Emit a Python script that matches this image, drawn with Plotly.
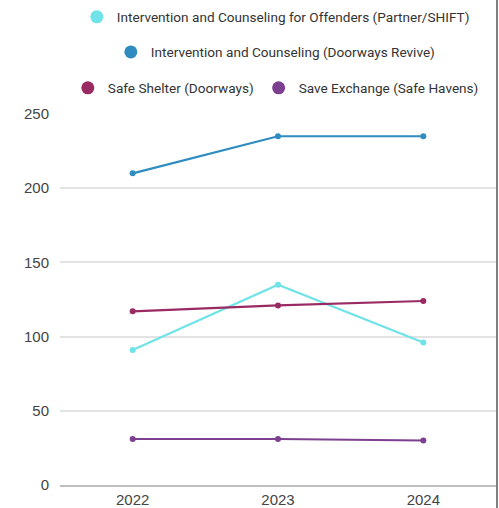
import plotly.graph_objects as go

years = ["2022", "2023", "2024"]
names = [
    "Intervention and Counseling for Offenders (Partner/SHIFT)",
    "Intervention and Counseling (Doorways Revive)",
    "Safe Shelter (Doorways)",
    "Save Exchange (Safe Havens)",
]
partner_shift = [91, 135, 96]
doorways_revive = [210, 235, 235]
safe_shelter = [117, 121, 124]
safe_exchange = [31, 31, 30]
series = [partner_shift, doorways_revive, safe_shelter, safe_exchange]
colors = ["#6FE3E7", "#2E8CC0", "#992A62", "#7D3F8F"]
legend_ids = ["legend", "legend2", "legend3", "legend3"]
y_ticks = [0, 50, 100, 150, 200, 250]

fig = go.Figure()
for name, vals, col in zip(names, series, colors):
    fig.add_trace(go.Scatter(
        x=years, y=vals, mode="lines+markers", name=name,
        line=dict(color=col, width=2.2),
        marker=dict(color=col, size=6),
        showlegend=False, hoverinfo="skip",
    ))
for name, col, lg in zip(names, colors, legend_ids):
    fig.add_trace(go.Scatter(
        x=[None], y=[None], mode="markers", name=name,
        marker=dict(color=col, size=13),
        legend=lg, showlegend=True,
    ))

legend_font = dict(family="Roboto", size=13.6, color="#333333")
common = dict(orientation="h", xanchor="center", x=0.495, yanchor="middle",
              font=legend_font, bgcolor="rgba(0,0,0,0)", itemclick=False)

fig.update_layout(
    width=499, height=508,
    margin=dict(l=60, r=3, t=114, b=23, autoexpand=False),
    paper_bgcolor="white", plot_bgcolor="white",
    legend=dict(y=1.2615, **common),
    legend2=dict(y=1.167, **common),
    legend3=dict(y=1.070, **common),
    xaxis=dict(
        type="category", range=[-0.5, 2.5], automargin=False,
        showgrid=False, showline=True, linecolor="#BDBDBD", linewidth=1.5,
        tickfont=dict(family="Liberation Sans", size=15, color="#444444"),
        ticks="",
    ),
    yaxis=dict(
        range=[0, 250], tickvals=y_ticks, automargin=False,
        showgrid=True, gridcolor="#E3E3E3", gridwidth=1.5,
        zeroline=False, showline=False, ticks="",
        tickfont=dict(family="Liberation Sans", size=15, color="#444444"),
        ticklabelstandoff=10,
    ),
    shapes=[dict(type="line", xref="paper", yref="paper",
                 x0=1.0023, x1=1.0023, y0=-0.07, y1=1.32,
                 line=dict(color="#555555", width=1.5))],
)

fig.write_html("out.html")
